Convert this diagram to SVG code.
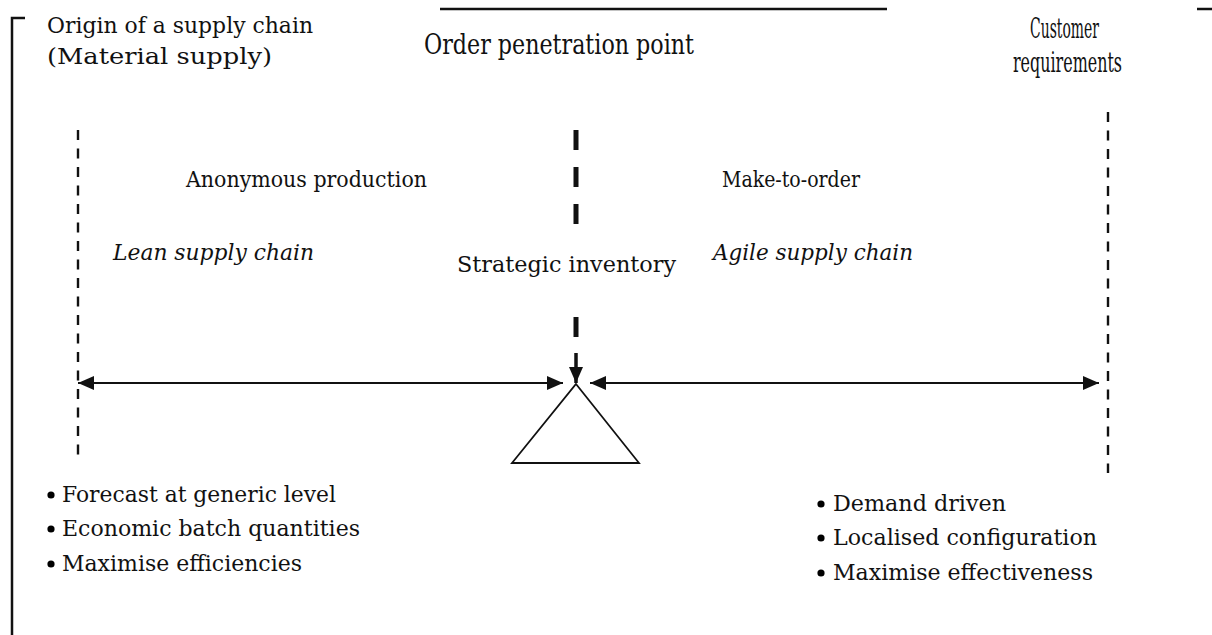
<svg xmlns="http://www.w3.org/2000/svg" width="1212" height="635" viewBox="0 0 1212 635">
  <style>
    text { font-family: "DejaVu Serif", "Liberation Serif", serif; font-size: 23px; fill: #111; }
    .it { font-style: italic; }
    .narrow { font-size: 28px; }
    .frame { stroke: #111; stroke-width: 2.5; fill: none; }
    .guide { stroke: #111; stroke-width: 2.4; stroke-dasharray: 10 8.5; fill: none; }
    .axis { stroke: #111; stroke-width: 2; fill: none; }
  </style>
  <defs>
    <marker id="head" viewBox="0 0 16 14" refX="16" refY="7" markerWidth="16" markerHeight="14" markerUnits="userSpaceOnUse" orient="auto-start-reverse">
      <path d="M0,0 L16,7 L0,14 z" fill="#111"/>
    </marker>
  </defs>

  <rect width="1212" height="635" fill="#fff"/>

  <!-- outer frame fragments -->
  <g id="frame">
    <path class="frame" d="M12,635 V18 H25"/>
    <path class="frame" d="M440,9 H887"/>
    <path class="frame" d="M1197,9 H1212"/>
  </g>

  <!-- connectors -->
  <g id="connectors">
    <line class="guide" x1="78" y1="130" x2="78" y2="456"/>
    <line class="guide" x1="1108" y1="112" x2="1108" y2="473"/>
    <line x1="576" y1="130" x2="576" y2="226" stroke="#111" stroke-width="5" stroke-dasharray="20 17"/>
    <line x1="576" y1="317" x2="576" y2="337" stroke="#111" stroke-width="5"/>
    <line x1="576" y1="353" x2="576" y2="383" stroke="#111" stroke-width="3.5" marker-end="url(#head)"/>
    <line class="axis" x1="78" y1="383" x2="563" y2="383" marker-start="url(#head)" marker-end="url(#head)"/>
    <line class="axis" x1="590" y1="383" x2="1099" y2="383" marker-start="url(#head)" marker-end="url(#head)"/>
  </g>

  <g id="pivot">
    <path d="M576,384 L639,463 H512 Z" fill="none" stroke="#111" stroke-width="1.8" stroke-linejoin="miter"/>
  </g>

  <g id="origin">
    <text x="47" y="33" textLength="266" lengthAdjust="spacingAndGlyphs">Origin of a supply chain</text>
    <text x="47" y="64" textLength="225" lengthAdjust="spacingAndGlyphs">(Material supply)</text>
  </g>

  <g id="penetration-point">
    <text class="narrow" x="424" y="54" textLength="270" lengthAdjust="spacingAndGlyphs">Order penetration point</text>
  </g>

  <g id="customer">
    <text class="narrow" x="1030" y="38" textLength="69" lengthAdjust="spacingAndGlyphs">Customer</text>
    <text class="narrow" x="1013" y="72" textLength="109" lengthAdjust="spacingAndGlyphs">requirements</text>
  </g>

  <g id="anonymous">
    <text x="186" y="187" textLength="241" lengthAdjust="spacingAndGlyphs">Anonymous production</text>
    <text class="it" x="113" y="260" textLength="201" lengthAdjust="spacingAndGlyphs">Lean supply chain</text>
  </g>

  <g id="strategic-inventory">
    <text x="457" y="272" textLength="219" lengthAdjust="spacingAndGlyphs">Strategic inventory</text>
  </g>

  <g id="make-to-order">
    <text x="722" y="187" textLength="138" lengthAdjust="spacingAndGlyphs">Make-to-order</text>
    <text class="it" x="713" y="260" textLength="200" lengthAdjust="spacingAndGlyphs">Agile supply chain</text>
  </g>

  <g id="lean-traits">
    <circle cx="51" cy="495" r="3.6"/>
    <text x="62" y="502" textLength="274" lengthAdjust="spacingAndGlyphs">Forecast at generic level</text>
    <circle cx="51" cy="529" r="3.6"/>
    <text x="62" y="536" textLength="298" lengthAdjust="spacingAndGlyphs">Economic batch quantities</text>
    <circle cx="51" cy="564" r="3.6"/>
    <text x="62" y="571" textLength="240" lengthAdjust="spacingAndGlyphs">Maximise efficiencies</text>
  </g>

  <g id="agile-traits">
    <circle cx="821" cy="504" r="3.6"/>
    <text x="833" y="511" textLength="173" lengthAdjust="spacingAndGlyphs">Demand driven</text>
    <circle cx="821" cy="538" r="3.6"/>
    <text x="833" y="545" textLength="264" lengthAdjust="spacingAndGlyphs">Localised configuration</text>
    <circle cx="821" cy="573" r="3.6"/>
    <text x="833" y="580" textLength="260" lengthAdjust="spacingAndGlyphs">Maximise effectiveness</text>
  </g>
</svg>
